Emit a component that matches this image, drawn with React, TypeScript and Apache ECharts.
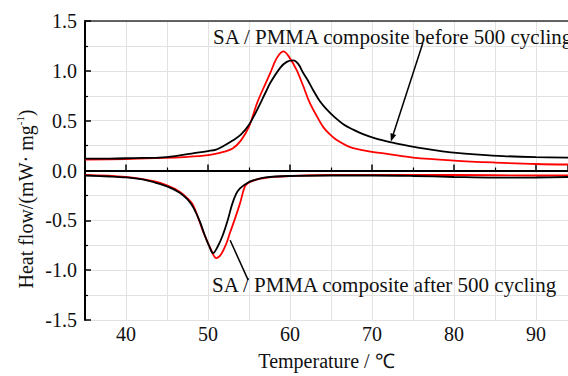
import React, { useEffect, useRef } from "react";
import * as echarts from "echarts";

// Heating curve (upper pair): temperature (°C) and heat flow (mW·mg⁻¹)
const upperBlackT = [35, 38, 41, 44, 46, 48, 50, 51, 52, 53, 54, 55, 56, 57, 57.6, 58.8, 59.6, 60.4, 61, 61.6, 62.2, 62.8, 63.6, 64.5, 65.5, 66.5, 67.7, 68.9, 70.5, 72.2, 74, 76, 78, 80, 83, 86, 90, 94];
const upperBlackQ = [0.12, 0.12, 0.125, 0.13, 0.145, 0.17, 0.195, 0.21, 0.25, 0.3, 0.36, 0.46, 0.61, 0.78, 0.88, 1.03, 1.09, 1.105, 1.07, 0.98, 0.9, 0.81, 0.7, 0.61, 0.53, 0.465, 0.41, 0.365, 0.32, 0.285, 0.255, 0.225, 0.2, 0.18, 0.16, 0.145, 0.135, 0.13];

const upperRedT = [35, 40, 44, 47, 50, 52, 53, 54, 55, 56, 57, 57.6, 58.4, 59.2, 59.8, 60.8, 61.6, 62.4, 63.3, 64.1, 64.9, 65.7, 66.9, 67.7, 69.8, 72, 75, 80, 85, 90, 94];
const upperRedQ = [0.11, 0.115, 0.125, 0.135, 0.155, 0.19, 0.22, 0.3, 0.44, 0.68, 0.87, 0.98, 1.13, 1.195, 1.15, 1.01, 0.85, 0.68, 0.54, 0.43, 0.36, 0.305, 0.25, 0.225, 0.19, 0.165, 0.13, 0.1, 0.08, 0.065, 0.06];

// Cooling curve (lower pair)
const lowerBlackT = [35, 38, 40, 42, 43.5, 45, 46.5, 47.5, 48.2, 49, 49.6, 50.2, 50.6, 51.2, 51.8, 52.4, 52.9, 53.4, 53.9, 54.7, 55.5, 57, 60, 65, 70, 75, 80, 85, 90, 94];
const lowerBlackQ = [-0.05, -0.06, -0.07, -0.09, -0.12, -0.16, -0.22, -0.29, -0.37, -0.51, -0.65, -0.77, -0.83, -0.76, -0.65, -0.5, -0.35, -0.24, -0.18, -0.13, -0.1, -0.07, -0.055, -0.05, -0.05, -0.055, -0.065, -0.072, -0.07, -0.065];

const lowerRedT = [35, 40, 43.5, 45, 46.5, 47.5, 48.2, 49.4, 50.4, 51, 51.6, 52.2, 52.7, 53.3, 53.9, 54.5, 55, 56, 58, 60, 65, 70, 80, 90, 94];
const lowerRedQ = [-0.045, -0.065, -0.11, -0.15, -0.21, -0.28, -0.35, -0.61, -0.8, -0.88, -0.84, -0.74, -0.62, -0.48, -0.33, -0.16, -0.12, -0.09, -0.065, -0.055, -0.045, -0.045, -0.045, -0.05, -0.05];

// Leader lines for the two notes: [T, Q] of start and end
const beforeLeader = [[76.2, 1.28], [72.3, 0.29]];
const afterLeader = [[52.7, -0.7], [54.9, -1.1]];

const yTicks = { min: -1.5, max: 1.5, step: 0.5 };
const xRange = { min: 35, max: 93.9 };

const SERIF = "'Liberation Serif', 'Times New Roman', serif";

const pairs = (t: number[], q: number[]) => t.map((v, i) => [v, q[i]]);

export default function App() {
  const ref = useRef<HTMLDivElement>(null);

  useEffect(() => {
    if (!ref.current) return;
    const chart = echarts.init(ref.current, undefined, { renderer: "svg" });

    const curve = (data: number[][], color: string) => ({
      type: "line",
      data,
      showSymbol: false,
      smooth: 0.35,
      lineStyle: { color, width: 1.8 },
      itemStyle: { color },
      z: color === "#000" ? 3 : 2,
    });

    const axisCommon = {
      axisTick: { show: true, inside: true, length: 6, lineStyle: { color: "#000", width: 1.5 } },
      minorTick: { show: true, splitNumber: 2, length: 3, lineStyle: { color: "#000", width: 1.2 } },
      splitLine: { show: true, lineStyle: { color: "#e2e2e2", width: 1 } },
      minorSplitLine: { show: true, lineStyle: { color: "#e2e2e2", width: 1 } },
    };

    chart.setOption({
      animation: false,
      grid: { left: 85, right: 0, top: 21, bottom: 53 },
      xAxis: [
        {
          type: "value",
          min: xRange.min,
          max: xRange.max,
          splitNumber: 5,
          axisLine: { show: true, lineStyle: { color: "#000", width: 2 } },
          ...axisCommon,
          axisLabel: {
            show: true,
            showMinLabel: false,
            showMaxLabel: false,
            margin: 4,
            color: "#111",
            fontFamily: SERIF,
            fontSize: 20,
          },
          name: "Temperature / ℃",
          nameLocation: "middle",
          nameGap: 31,
          nameTextStyle: { color: "#111", fontFamily: SERIF, fontSize: 20 },
        },
        {
          type: "value",
          position: "top",
          min: xRange.min,
          max: xRange.max,
          axisLine: { show: true, lineStyle: { color: "#333", width: 1.5 } },
          axisTick: { show: false },
          axisLabel: { show: false },
          splitLine: { show: false },
        },
      ],
      yAxis: {
        type: "value",
        min: yTicks.min,
        max: yTicks.max,
        interval: yTicks.step,
        axisLine: { show: true, onZero: false, lineStyle: { color: "#000", width: 2 } },
        ...axisCommon,
        axisLabel: {
          margin: 8,
          color: "#111",
          fontFamily: SERIF,
          fontSize: 20,
          formatter: (v: number) => v.toFixed(1),
        },
      },
      series: [
        curve(pairs(upperRedT, upperRedQ), "#f00"),
        curve(pairs(upperBlackT, upperBlackQ), "#000"),
        curve(pairs(lowerRedT, lowerRedQ), "#f00"),
        curve(pairs(lowerBlackT, lowerBlackQ), "#000"),
      ],
    });

    // Leader lines placed through the grid's own data-to-pixel mapping
    const toPx = (p: number[]) => chart.convertToPixel({ gridIndex: 0 }, p) as number[];
    const b0 = toPx(beforeLeader[0]);
    const b1 = toPx(beforeLeader[1]);
    const a0 = toPx(afterLeader[0]);
    const a1 = toPx(afterLeader[1]);

    // small arrowhead at the lower end of the "before" leader
    const dx = b1[0] - b0[0];
    const dy = b1[1] - b0[1];
    const len = Math.hypot(dx, dy);
    const ux = dx / len;
    const uy = dy / len;
    const headL = 8;
    const headW = 3;
    const base = [b1[0] - ux * headL, b1[1] - uy * headL];
    const head = [
      [b1[0], b1[1]],
      [base[0] - uy * headW, base[1] + ux * headW],
      [base[0] + uy * headW, base[1] - ux * headW],
    ];

    chart.setOption({
      graphic: [
        {
          type: "text",
          x: 25,
          y: 199,
          rotation: Math.PI / 2,
          style: {
            text: "{a|Heat flow/(mW· mg}{s|-1}{a|)}",
            align: "center",
            verticalAlign: "middle",
            rich: {
              a: { fontFamily: SERIF, fontSize: 20, fill: "#111", lineHeight: 22, verticalAlign: "bottom" },
              s: { fontFamily: SERIF, fontSize: 11, fill: "#111", lineHeight: 22, verticalAlign: "top" },
            },
          },
        },
        {
          type: "text",
          x: 213,
          y: 37,
          style: {
            text: "SA / PMMA composite before 500 cycling",
            fontFamily: SERIF,
            fontSize: 21,
            fill: "#111",
            align: "left",
            verticalAlign: "middle",
          },
        },
        {
          type: "text",
          x: 212,
          y: 285,
          style: {
            text: "SA / PMMA composite after 500 cycling",
            fontFamily: SERIF,
            fontSize: 21,
            fill: "#111",
            align: "left",
            verticalAlign: "middle",
          },
        },
        {
          type: "line",
          shape: { x1: b0[0], y1: b0[1], x2: base[0], y2: base[1] },
          style: { stroke: "#000", lineWidth: 1.5 },
          z: 10,
        },
        {
          type: "polygon",
          shape: { points: head },
          style: { fill: "#000" },
          z: 10,
        },
        {
          type: "line",
          shape: { x1: a0[0], y1: a0[1], x2: a1[0], y2: a1[1] },
          style: { stroke: "#000", lineWidth: 1.5 },
          z: 10,
        },
      ],
    });

    return () => chart.dispose();
  }, []);

  return (
    <div
      ref={ref}
      style={{ position: "absolute", left: 0, top: 0, width: 568, height: 376, background: "#fff" }}
    />
  );
}
